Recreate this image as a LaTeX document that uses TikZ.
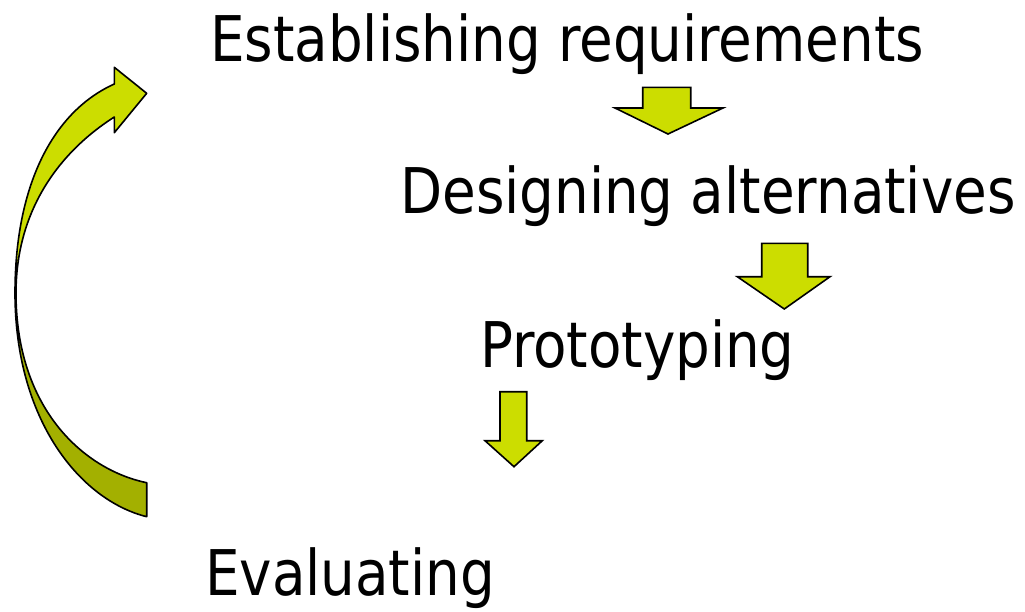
\documentclass[tikz,border=0pt]{standalone}
\usepackage{fontspec}
\newfontfamily\stagefont{DejaVu Sans Condensed}
\definecolor{limefill}{RGB}{204,221,0}
\definecolor{olivefill}{RGB}{163,176,0}
\newcommand{\stagetext}[1]{\scalebox{0.965}[1]{#1}}
\begin{document}
\begin{tikzpicture}[x=1pt,y=-1pt,
  stage/.style={anchor=base west,inner sep=0pt,font=\stagefont\fontsize{63}{70}\selectfont},
  blockarrow/.style={draw=black,line width=1.6pt,line join=miter,fill=limefill},
  ribbonlight/.style={draw=black,line width=1.6pt,line join=round,fill=limefill},
  ribbondark/.style={draw=black,line width=1.6pt,line join=round,fill=olivefill}]
\useasboundingbox (0,0) rectangle (1025,611);

% process stages
\node[stage] (req)  at (210,61)  {\stagetext{Establishing requirements}};
\node[stage] (des)  at (400,213) {\stagetext{Designing alternatives}};
\node[stage] (prot) at (480,367) {\stagetext{Prototyping}};
\node[stage] (eval) at (205,595) {\stagetext{Evaluating}};

% downward block arrows between stages
\draw[blockarrow] (642.7,87.3) -- (690.7,87.3) -- (690.7,108) -- (723,108)
  -- (668,134) -- (615,108) -- (642.7,108) -- cycle;
\draw[blockarrow] (761.7,243.3) -- (807.7,243.3) -- (807.7,276.7) -- (830,276.7)
  -- (784.3,309) -- (737.3,276.7) -- (761.7,276.7) -- cycle;
\draw[blockarrow] (500,391.7) -- (526.7,391.7) -- (526.7,440.7) -- (542.3,440.7)
  -- (514,466.7) -- (485,440.7) -- (500,440.7) -- cycle;

% curved feedback arrow, lower (shaded) half
\draw[ribbondark] (15,293) .. controls (15,420) and (80,500) .. (146.7,516.7)
  -- (146.7,482.7) .. controls (85,470) and (16,410) .. (16,293) -- cycle;
% curved feedback arrow, upper half with head
\draw[ribbonlight] (15,293) .. controls (15,183) and (54.3,111) .. (114.3,84)
  -- (114.3,67.3) -- (146.7,93.3) -- (114.3,132.7) -- (114.3,117)
  .. controls (59.5,152) and (16,210) .. (16,293) -- cycle;
\end{tikzpicture}
\end{document}
